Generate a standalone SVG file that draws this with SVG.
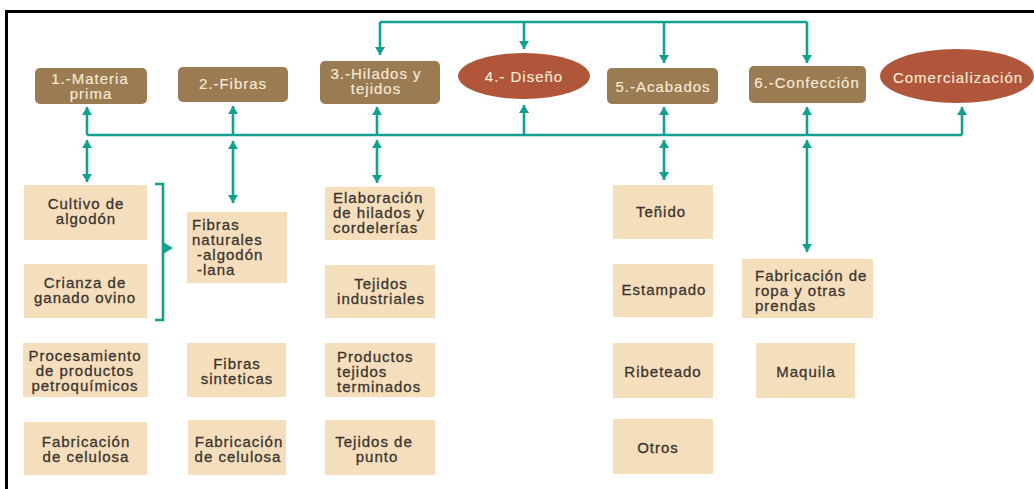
<svg xmlns="http://www.w3.org/2000/svg" width="1034" height="489" viewBox="0 0 1034 489">
<defs>
<style>
.hb{fill:#9b7c52}
.el{fill:#b0573b}
.lb{fill:#f4debb}
.ht{fill:#f6ead8;stroke:#f6ead8;stroke-width:0.15;font-family:"Liberation Sans",Arial,sans-serif;font-size:15px;letter-spacing:1px;text-anchor:middle}
.st{fill:#3b3430;stroke:#3b3430;stroke-width:0.3;font-family:"Liberation Sans",Arial,sans-serif;font-size:15px;letter-spacing:1px;text-anchor:middle}
.st.l{text-anchor:start}
.c{fill:none;stroke:#13a08f;stroke-width:2.6}
.frame{fill:none;stroke:#000;stroke-width:3}
</style>
<marker id="ah" viewBox="0 0 8 10" refX="8" refY="5" markerWidth="8" markerHeight="10" markerUnits="userSpaceOnUse" orient="auto-start-reverse">
<path d="M0,0 L8,5 L0,10 z" fill="#13a08f"/>
</marker>
</defs>
<rect x="0" y="0" width="1034" height="489" fill="#ffffff"/>
<path class="frame" d="M6.5,489 V11.5 H1034"/>

<g id="connectors">
<path class="c" d="M380,22 H807"/>
<path class="c" d="M380,22 V55" marker-end="url(#ah)"/>
<path class="c" d="M524,22 V49" marker-end="url(#ah)"/>
<path class="c" d="M664,22 V63" marker-end="url(#ah)"/>
<path class="c" d="M807,22 V63" marker-end="url(#ah)"/>
<path class="c" d="M87,135 H962"/>
<path class="c" d="M87,135 V107" marker-end="url(#ah)"/>
<path class="c" d="M233,135 V106" marker-end="url(#ah)"/>
<path class="c" d="M377,135 V107" marker-end="url(#ah)"/>
<path class="c" d="M524,135 V105" marker-end="url(#ah)"/>
<path class="c" d="M664,135 V107" marker-end="url(#ah)"/>
<path class="c" d="M807,135 V107" marker-end="url(#ah)"/>
<path class="c" d="M962,135 V107" marker-end="url(#ah)"/>
<path class="c" d="M87,140 V182" marker-start="url(#ah)" marker-end="url(#ah)"/>
<path class="c" d="M233,141 V203" marker-start="url(#ah)" marker-end="url(#ah)"/>
<path class="c" d="M377,140 V183" marker-start="url(#ah)" marker-end="url(#ah)"/>
<path class="c" d="M664,140 V180" marker-start="url(#ah)" marker-end="url(#ah)"/>
<path class="c" d="M807,140 V252" marker-start="url(#ah)" marker-end="url(#ah)"/>
<path class="c" d="M155,184 H163 V320 H155"/>
<path d="M163,242 L173,248 L163,254 z" fill="#13a08f"/>
</g>

<g id="n1"><rect class="hb" x="35" y="68" width="112" height="36" rx="5"/>
<text class="ht" x="90" y="84">1.-Materia</text><text class="ht" x="91" y="99">prima</text></g>
<g id="n2"><rect class="hb" x="178" y="67" width="110" height="35" rx="5"/>
<text class="ht" x="233" y="89">2.-Fibras</text></g>
<g id="n3"><rect class="hb" x="320" y="61" width="120" height="43" rx="5"/>
<text class="ht" x="376" y="79">3.-Hilados y</text><text class="ht" x="376" y="94">tejidos</text></g>
<g id="n4"><ellipse class="el" cx="524" cy="76" rx="66" ry="23"/>
<text class="ht" x="524" y="82">4.- Diseño</text></g>
<g id="n5"><rect class="hb" x="607" y="68" width="111" height="36" rx="5"/>
<text class="ht" x="663" y="92">5.-Acabados</text></g>
<g id="n6"><rect class="hb" x="749" y="66" width="117" height="37" rx="5"/>
<text class="ht" x="807" y="88">6.-Confección</text></g>
<g id="n7"><ellipse class="el" cx="957" cy="76" rx="77" ry="27"/>
<text class="ht" x="958" y="83">Comercialización</text></g>

<g id="s1"><rect class="lb" x="24" y="185" width="123" height="55"/>
<text class="st" x="86" y="209">Cultivo de</text><text class="st" x="86" y="224">algodón</text></g>
<g id="s2"><rect class="lb" x="24" y="264" width="123" height="54"/>
<text class="st" x="85" y="288">Crianza de</text><text class="st" x="85" y="303">ganado ovino</text></g>
<g id="s3"><rect class="lb" x="23" y="343" width="125" height="54"/>
<text class="st" x="85" y="361">Procesamiento</text><text class="st" x="85" y="376">de productos</text><text class="st" x="85" y="391">petroquímicos</text></g>
<g id="s4"><rect class="lb" x="24" y="422" width="123" height="53"/>
<text class="st" x="86" y="447">Fabricación</text><text class="st" x="86" y="462">de celulosa</text></g>

<g id="s5"><rect class="lb" x="187" y="212" width="100" height="71"/>
<text class="st l" x="192" y="230">Fibras</text><text class="st l" x="192" y="245">naturales</text><text class="st l" x="197" y="260">-algodón</text><text class="st l" x="197" y="275">-lana</text></g>
<g id="s6"><rect class="lb" x="187" y="343" width="99" height="54"/>
<text class="st" x="237" y="369">Fibras</text><text class="st" x="237" y="384">sinteticas</text></g>
<g id="s7"><rect class="lb" x="188" y="420" width="98" height="55"/>
<text class="st" x="239" y="447">Fabricación</text><text class="st" x="238" y="462">de celulosa</text></g>

<g id="s8"><rect class="lb" x="325" y="187" width="110" height="53"/>
<text class="st l" x="333" y="203">Elaboración</text><text class="st l" x="333" y="218">de hilados y</text><text class="st l" x="333" y="233">cordelerías</text></g>
<g id="s9"><rect class="lb" x="325" y="265" width="110" height="53"/>
<text class="st" x="381" y="289">Tejidos</text><text class="st" x="381" y="304">industriales</text></g>
<g id="s10"><rect class="lb" x="325" y="343" width="110" height="54"/>
<text class="st l" x="337" y="362">Productos</text><text class="st l" x="337" y="377">tejidos</text><text class="st l" x="337" y="392">terminados</text></g>
<g id="s11"><rect class="lb" x="325" y="420" width="110" height="55"/>
<text class="st" x="374" y="447">Tejidos de</text><text class="st" x="377" y="462">punto</text></g>

<g id="s12"><rect class="lb" x="613" y="185" width="100" height="54"/>
<text class="st" x="661" y="217">Teñido</text></g>
<g id="s13"><rect class="lb" x="613" y="264" width="100" height="53"/>
<text class="st" x="664" y="295">Estampado</text></g>
<g id="s14"><rect class="lb" x="613" y="343" width="100" height="55"/>
<text class="st" x="663" y="377">Ribeteado</text></g>
<g id="s15"><rect class="lb" x="613" y="419" width="100" height="55"/>
<text class="st" x="658" y="453">Otros</text></g>

<g id="s16"><rect class="lb" x="742" y="259" width="131" height="59"/>
<text class="st l" x="755" y="281">Fabricación de</text><text class="st l" x="755" y="296">ropa y otras</text><text class="st l" x="755" y="311">prendas</text></g>
<g id="s17"><rect class="lb" x="756" y="343" width="99" height="55"/>
<text class="st" x="806" y="377">Maquila</text></g>
</svg>
